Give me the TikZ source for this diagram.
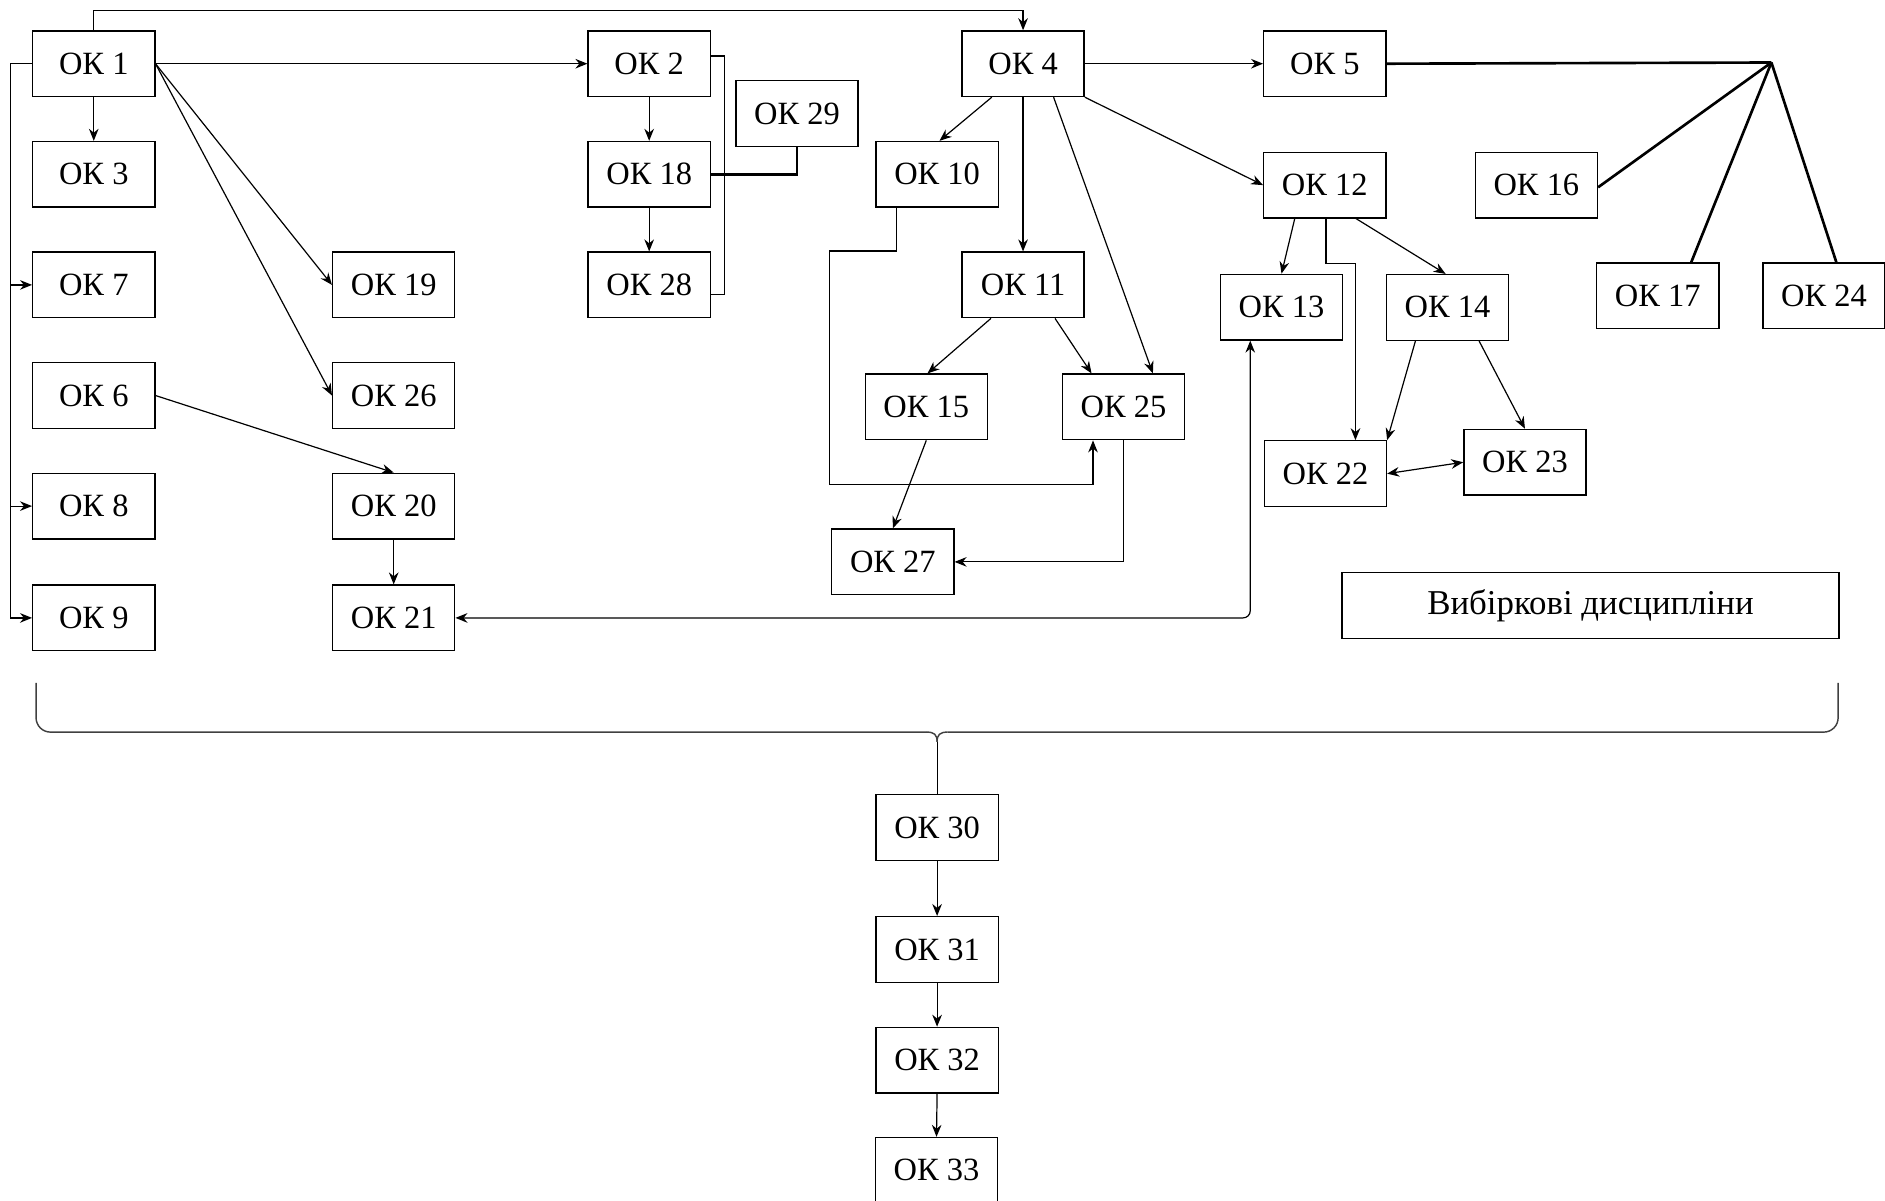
\documentclass[tikz,border=0pt]{standalone}
\usepackage{fontspec}
\setmainfont{Liberation Serif}
\usetikzlibrary{arrows.meta,calc}
\begin{document}
\begin{tikzpicture}[x=0.5pt,y=-0.5pt,
  box/.style={draw, line width=0.55pt, minimum width=50.8pt, minimum height=27.3pt, inner sep=0pt, font=\fontsize{13.5}{15}\selectfont},
  con/.style={line width=0.5pt},
  arr/.style={con, -{Stealth[length=5pt,width=4pt]}},
  darr/.style={con, {Stealth[length=5pt,width=4pt]}-{Stealth[length=5pt,width=4pt]}},
  heavy/.style={line width=1.1pt},
  bracestyle/.style={line width=0.6pt, draw=black!75}]
\useasboundingbox (0,0) rectangle (1568,999);
\clip (0,0) rectangle (1568,999);

% column 1
\node[box] (ok1) at (78,53) {ОК 1};
\node[box] (ok3) at (78,145) {ОК 3};
\node[box] (ok7) at (78,237) {ОК 7};
\node[box] (ok6) at (78,329) {ОК 6};
\node[box] (ok8) at (78,421) {ОК 8};
\node[box] (ok9) at (78,514) {ОК 9};
% column 2
\node[box] (ok19) at (327.5,237) {ОК 19};
\node[box] (ok26) at (327.5,329) {ОК 26};
\node[box] (ok20) at (327.5,421) {ОК 20};
\node[box] (ok21) at (327.5,514) {ОК 21};
% column 3
\node[box] (ok2) at (540,53) {ОК 2};
\node[box] (ok18) at (540,145) {ОК 18};
\node[box] (ok28) at (540,237) {ОК 28};
\node[box] (ok29) at (663,94.5) {ОК 29};
% column 4
\node[box] (ok4) at (851,53) {ОК 4};
\node[box] (ok10) at (779.5,145) {ОК 10};
\node[box] (ok11) at (851,237) {ОК 11};
\node[box] (ok15) at (770.5,338.5) {ОК 15};
\node[box] (ok25) at (934.5,338.5) {ОК 25};
\node[box] (ok27) at (742.7,467.4) {ОК 27};
% column 5
\node[box] (ok5) at (1102,53) {ОК 5};
\node[box] (ok12) at (1102,154) {ОК 12};
\node[box] (ok13) at (1066,255.5) {ОК 13};
\node[box] (ok14) at (1204,255.7) {ОК 14};
\node[box] (ok22) at (1102.5,394) {ОК 22};
\node[box] (ok23) at (1268.5,384.5) {ОК 23};
\node[box] (ok16) at (1278,154) {ОК 16};
\node[box] (ok17) at (1379,246) {ОК 17};
\node[box] (ok24) at (1517.3,246) {ОК 24};
\node[box, minimum width=206.6pt, font=\fontsize{14.5}{17}\selectfont] (vib) at (1323,503.7) {Вибіркові дисципліни};
% bottom chain
\node[box] (ok30) at (779.5,688.3) {ОК 30};
\node[box] (ok31) at (779.5,789.8) {ОК 31};
\node[box] (ok32) at (779.5,881.9) {ОК 32};
\node[box] (ok33) at (779,973.5) {ОК 33};

% helper coordinates
\coordinate (busx) at (9,0);
\coordinate (topy) at (0,8.6);
\coordinate (hub) at (1473.5,52);
\coordinate (b10a) at (690,208.8);
\coordinate (b10b) at (690,403);

% OK1 connections
\draw[arr] (ok1.north) -- (ok1.north |- topy) -| (ok4.north);
\draw[arr] (ok1.east) -- (ok2.west);
\draw[arr] (ok1.south) -- (ok3.north);
\draw[arr] (ok1.east) -- (ok19.west);
\draw[arr] (ok1.east) -- (ok26.west);
\draw[arr] (ok1.west) -- (ok1.west -| busx) |- (ok9.west);
\draw[arr] (ok7.west -| busx) -- (ok7.west);
\draw[arr] (ok8.west -| busx) -- (ok8.west);
% OK6, OK20, OK21
\draw[arr] (ok6.east) -- (ok20.north);
\draw[arr] (ok20.south) -- (ok21.north);
\draw[darr, rounded corners=3pt] (ok21.east) -| ($(ok13.south)+(-26,0)$);
% OK2 group
\draw[arr] (ok2.south) -- (ok18.north);
\draw[arr] (ok18.south) -- (ok28.north);
\draw[con] ($(ok2.east)+(0,-6.4)$) -- ++(11,0) |- ($(ok28.east)+(0,8)$);
\draw[heavy] (ok18.east) -| (ok29.south);
% OK4 group
\draw[arr] (ok4.east) -- (ok5.west);
\draw[arr] ($(ok4.south)+(-26,0)$) -- ($(ok10.north)+(2,0)$);
\draw[arr] (ok4.south) -- (ok11.north);
\draw[arr] ($(ok4.south)+(25.4,0)$) -- ($(ok25.north)+(24.5,0)$);
\draw[arr] (ok4.south east) -- (ok12.west);
\draw[arr] ($(ok11.south)+(-26.7,0)$) -- ($(ok15.north)+(1,0)$);
\draw[arr] ($(ok11.south)+(26.6,0)$) -- ($(ok25.north)+(-26.5,0)$);
\draw[arr] ($(ok10.south)+(-34,0)$) |- (b10a) -- (b10b) -| ($(ok25.south)+(-25.3,0)$);
\draw[arr] (ok25.south) |- (ok27.east);
\draw[arr] (ok15.south) -- (ok27.north);
% OK5 bundle
\draw[heavy] (ok5.east) -- (hub);
\draw[heavy] (hub) -- ($(ok16.east)+(0,1.8)$);
\draw[heavy] (hub) -- ($(ok17.north)+(27.8,0)$);
\draw[heavy] (hub) -- ($(ok24.north)+(10.2,0)$);
% OK12 group
\draw[arr] ($(ok12.south)+(-25,0)$) -- (ok13.north);
\draw[arr] ($(ok12.south)+(1,0)$) -- ++(0,37.5) -| ($(ok22.north)+(25,0)$);
\draw[arr] ($(ok12.south)+(26,0)$) -- ($(ok14.north)+(-1.5,0)$);
\draw[arr] ($(ok14.south)+(-26.6,0)$) -- (ok22.north east);
\draw[arr] ($(ok14.south)+(26.3,0)$) -- (ok23.north);
\draw[darr] (ok22.east) -- (ok23.west);

% brace
\coordinate (cusp) at (779.5,617);
\draw[bracestyle, rounded corners=6pt] (30,568) -- (30,609) -- (771,609);
\draw[bracestyle] (771,609) .. controls (777,609) and (779.5,611) .. (cusp);
\draw[bracestyle, rounded corners=6pt] (1529,568) -- (1529,609) -- (788,609);
\draw[bracestyle] (788,609) .. controls (782,609) and (779.5,611) .. (cusp);
\draw[con] (cusp) -- (ok30.north);

% bottom chain
\draw[arr] (ok30.south) -- (ok31.north);
\draw[arr] (ok31.south) -- (ok32.north);
\draw[arr] (ok32.south) -- (ok33.north);
\end{tikzpicture}
\end{document}
